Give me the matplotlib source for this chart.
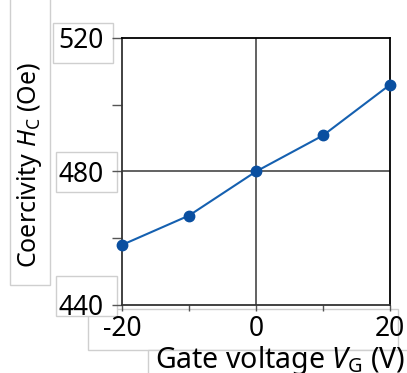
import matplotlib
matplotlib.use("Agg")
import matplotlib.pyplot as plt
from matplotlib.patches import Rectangle

gate_voltage = [-20, -10, 0, 10, 20]
coercivity = [458, 466.8, 480, 490.8, 506]
x_ticks = [-20, -10, 0, 10, 20]
x_tick_labels = ["-20", "", "0", "", "20"]
y_ticks = [440, 460, 480, 500, 520]
y_tick_labels = ["440", "", "480", "", "520"]

plt.rcParams['font.family'] = ['Noto Sans', 'DejaVu Sans']
plt.rcParams['font.weight'] = 'light'
plt.rcParams['mathtext.fontset'] = 'custom'
plt.rcParams['mathtext.rm'] = 'Noto Sans:light'
plt.rcParams['mathtext.it'] = 'Noto Sans:italic:light'

W, H = 407, 373
fig = plt.figure(figsize=(W / 100, H / 100), dpi=100)
L, R, T, B = 122, 390, 38, 305
ax = fig.add_axes([L / W, (H - B) / H, (R - L) / W, (B - T) / H])
ax.set_zorder(2)

ax.plot(gate_voltage, coercivity, color='#1560b0', lw=1.5, marker='o',
        markersize=7.5, markerfacecolor='#0a4fa0', markeredgecolor='#0a4fa0',
        zorder=5, clip_on=False)
ax.axvline(0, color='#555555', lw=1.3, zorder=2)
ax.axhline(480, color='#555555', lw=1.3, zorder=2)

ax.set_xlim(-20, 20)
ax.set_ylim(440, 520)
ax.set_xticks(x_ticks)
ax.set_xticklabels(x_tick_labels)
ax.set_yticks(y_ticks)
ax.set_yticklabels(y_tick_labels)
ax.tick_params(axis='x', direction='out', length=4, width=1, color='#555555',
               labelsize=19, pad=3.5)
ax.tick_params(axis='y', direction='out', length=7, width=1, color='#555555',
               labelsize=19, pad=6)
for s in ax.spines.values():
    s.set_color('black')
    s.set_linewidth(1.3)
ax.spines['left'].set_color('#333333')
ax.spines['bottom'].set_color('#333333')

def box(x0, y0, x1, y1):
    fig.patches.append(Rectangle((x0 / W, (H - y1) / H), (x1 - x0) / W, (y1 - y0) / H,
                                 transform=fig.transFigure, facecolor='white',
                                 edgecolor='#cfcfcf', lw=1.0, zorder=-1))

box(10, -2, 50, 285)
box(88, 309, 398, 350)
box(148, 350, 410, 376)
box(53, 23, 113, 63)
box(56, 152, 117, 192)
box(56, 276, 117, 316)

fig.text(30 / W, (H - 165) / H, r"Coercivity $H_\mathrm{C}$ (Oe)", rotation=90,
         ha='center', va='center', fontsize=18, zorder=3)
fig.text(280 / W, (H - 368) / H, r"Gate voltage $V_\mathrm{G}$ (V)",
         ha='center', va='baseline', fontsize=20.5, zorder=3)

fig.savefig("out.png", dpi=100)
